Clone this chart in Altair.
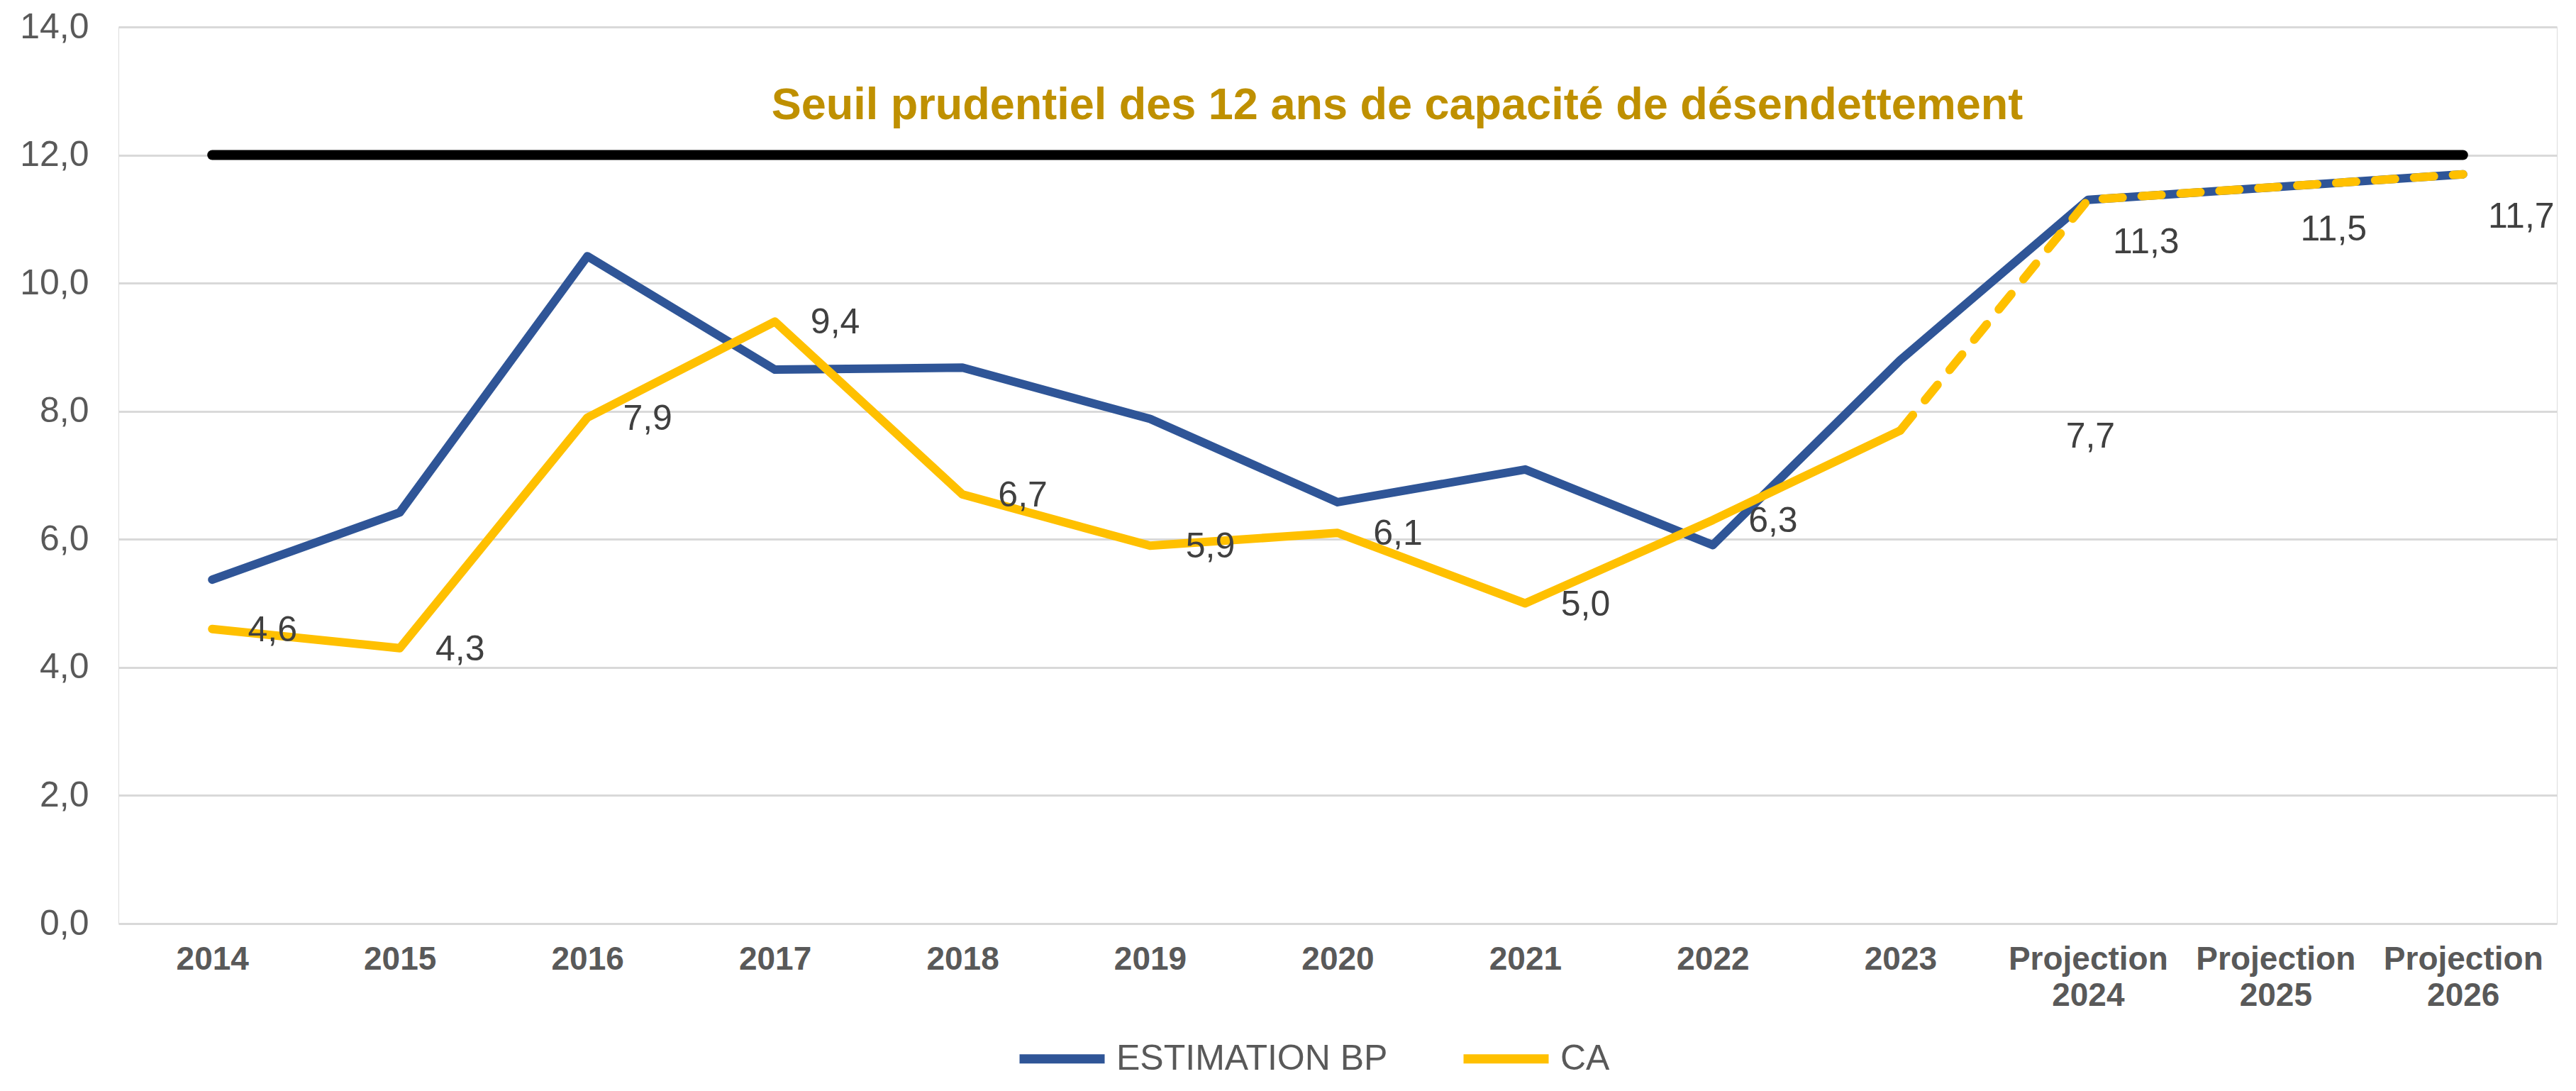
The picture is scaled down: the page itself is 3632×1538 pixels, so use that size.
import altair as alt
import pandas as pd

# ---- data ----
years = ["2014", "2015", "2016", "2017", "2018", "2019", "2020", "2021", "2022", "2023",
         "Projection 2024", "Projection 2025", "Projection 2026"]
estimation_bp = [5.37, 6.42, 10.42, 8.65, 8.68, 7.88, 6.58, 7.09, 5.91, 8.80, 11.3, 11.5, 11.7]
ca = [4.6, 4.3, 7.9, 9.4, 6.7, 5.9, 6.1, 5.0, 6.3, 7.7, 11.3, 11.5, 11.7]
threshold = 12
title_text = "Seuil prudentiel des 12 ans de capacité de désendettement"
series_names = ["ESTIMATION BP", "CA"]
last_actual = "2023"

BLUE = "#2F5597"
YELLOW = "#FFC000"
FONT = "Liberation Sans"

n_actual = years.index(last_actual) + 1

bp_df = pd.DataFrame({"year": years, "value": estimation_bp, "series": series_names[0]})
ca_df = pd.DataFrame({"year": years, "value": ca, "series": series_names[1]})
ca_df["label"] = [f"{v:.1f}".replace(".", ",") for v in ca]
ca_solid = ca_df.iloc[:n_actual]
ca_dashed = ca_df.iloc[n_actual - 1:]
thr_df = pd.DataFrame({"year": years, "value": [threshold] * len(years)})

x_enc = alt.X("year:N", sort=years,
              scale=alt.Scale(paddingInner=0, paddingOuter=0),
              axis=alt.Axis(title=None, labelAngle=0, domain=False, ticks=False,
                            labelFont=FONT, labelFontSize=46, labelFontWeight="bold",
                            labelColor="#595959", labelPadding=28, labelLineHeight=51,
                            labelExpr="split(datum.label, ' ')", labelLimit=1000))
y_scale = alt.Scale(domain=[0, 14], nice=False)
y_enc = alt.Y("value:Q", scale=y_scale,
              axis=alt.Axis(title=None, values=list(range(0, 15, 2)), domain=False, ticks=False,
                            labelFont=FONT, labelFontSize=50, labelColor="#595959",
                            labelPadding=42, gridColor="#D9D9D9", gridWidth=3,
                            labelExpr="replace(format(datum.value, '.1f'), '.', ',')"))

color_scale = alt.Scale(domain=series_names, range=[BLUE, YELLOW])
legend = alt.Legend(orient="none", legendX=1264, legendY=1388, direction="horizontal",
                    title=None, labelFont=FONT, labelFontSize=50, labelColor="#595959",
                    symbolType="stroke", symbolSize=14400, symbolStrokeWidth=13,
                    columnPadding=80, labelOffset=10, padding=0, labelLimit=1000)

thr_line = alt.Chart(thr_df).mark_line(color="black", strokeWidth=14, strokeCap="round").encode(
    x=x_enc, y=y_enc)

bp_line = alt.Chart(bp_df).mark_line(strokeWidth=12, strokeCap="round", strokeJoin="round").encode(
    x=x_enc, y=y_enc,
    color=alt.Color("series:N", scale=color_scale, legend=legend, sort=series_names))

ca_line = alt.Chart(ca_solid).mark_line(strokeWidth=12, strokeCap="round", strokeJoin="round").encode(
    x=x_enc, y=y_enc,
    color=alt.Color("series:N", scale=color_scale, legend=legend, sort=series_names))

ca_dash = alt.Chart(ca_dashed).mark_line(strokeWidth=12, strokeCap="round", strokeJoin="round",
                                         strokeDash=[28, 27], color=YELLOW).encode(
    x=x_enc, y=y_enc)

label_common = dict(font=FONT, fontSize=50, color="#404040", align="center", baseline="middle")
proj_years = years[n_actual:]
lab_main = alt.Chart(ca_df).transform_filter(
    alt.FieldOneOfPredicate(field="year", oneOf=years[:n_actual - 1])
).mark_text(dx=85, dy=2, **label_common).encode(x=x_enc, y=y_enc, text="label:N")
lab_last = alt.Chart(ca_df).transform_filter(
    alt.FieldEqualPredicate(field="year", equal=last_actual)
).mark_text(dx=268, dy=9, **label_common).encode(x=x_enc, y=y_enc, text="label:N")
lab_proj = alt.Chart(ca_df).transform_filter(
    alt.FieldOneOfPredicate(field="year", oneOf=proj_years)
).mark_text(dx=82, dy=60, **label_common).encode(x=x_enc, y=y_enc, text="label:N")

title = alt.Chart(pd.DataFrame({"t": [title_text]})).mark_text(
    font=FONT, fontSize=63, fontWeight="bold", color="#BF9000",
    align="center", baseline="alphabetic").encode(
    text="t:N", x=alt.value(1803), y=alt.value(130))

chart = alt.layer(thr_line, bp_line, ca_line, ca_dash, lab_main, lab_last, lab_proj, title).properties(
    width=3438, height=1264,
    autosize=alt.AutoSizeParams(type="none"),
    padding={"left": 159, "top": 30, "right": 10, "bottom": 220},
).configure_view(stroke=None).configure(background="white")

chart.save("out.html", embed_options={"renderer": "svg", "actions": False})
